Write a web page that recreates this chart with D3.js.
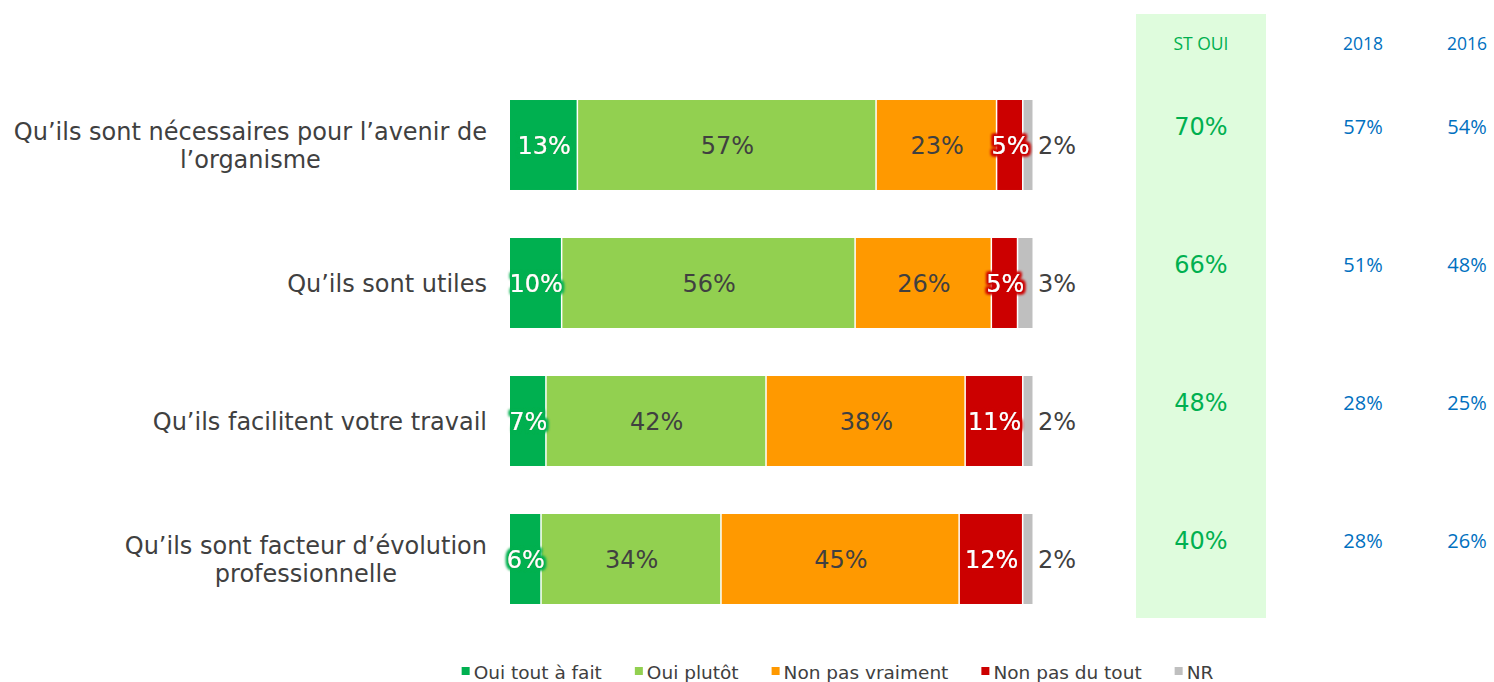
<!DOCTYPE html>
<html>
<head>
<meta charset="utf-8">
<script src="https://d3js.org/d3.v7.min.js"></script>
<style>
  body { margin: 0; background: #fff; }
  svg text { font-family: "DejaVu Sans", Verdana, sans-serif; }
</style>
</head>
<body>
<div id="chart"></div>
<script>
// data
const categories = [
  ["Qu\u2019ils sont nécessaires pour l\u2019avenir de", "l\u2019organisme"],
  ["Qu\u2019ils sont utiles"],
  ["Qu\u2019ils facilitent votre travail"],
  ["Qu\u2019ils sont facteur d\u2019évolution", "professionnelle"]
];
const seriesNames = ["Oui tout à fait", "Oui plutôt", "Non pas vraiment", "Non pas du tout", "NR"];
const ouiToutAFait = [13, 10, 7, 6];
const ouiPlutot = [57, 56, 42, 34];
const nonPasVraiment = [23, 26, 38, 45];
const nonPasDuTout = [5, 5, 11, 12];
const nr = [2, 3, 2, 2];
const stOui = [70, 66, 48, 40];
const y2018 = [57, 51, 28, 28];
const y2016 = [54, 48, 25, 26];
const colHeaders = ["ST OUI", "2018", "2016"];

const colors = ["#00B050", "#92D050", "#FF9900", "#CC0000", "#BFBFBF"];
const darkLabel = [false, true, true, false, true];

const W = 1494, H = 682;
const svg = d3.select("#chart").append("svg")
  .attr("width", W).attr("height", H);

const defs = svg.append("defs");
function glow(id, color) {
  const f = defs.append("filter").attr("id", id)
    .attr("x", "-30%").attr("y", "-30%").attr("width", "160%").attr("height", "160%");
  f.append("feMorphology").attr("in", "SourceAlpha").attr("operator", "dilate").attr("radius", 2).attr("result", "d");
  f.append("feGaussianBlur").attr("in", "d").attr("stdDeviation", 1.8).attr("result", "b");
  f.append("feFlood").attr("flood-color", color).attr("result", "c");
  f.append("feComposite").attr("in", "c").attr("in2", "b").attr("operator", "in").attr("result", "g");
  const m = f.append("feMerge");
  m.append("feMergeNode").attr("in", "g");
  m.append("feMergeNode").attr("in", "g");
  m.append("feMergeNode").attr("in", "SourceGraphic");
}
glow("glow0", colors[0]);
glow("glow3", colors[3]);

const rows = categories.map((c, i) => ({
  idx: i,
  label: c,
  values: [ouiToutAFait[i], ouiPlutot[i], nonPasVraiment[i], nonPasDuTout[i], nr[i]]
}));

const x = d3.scaleLinear().domain([0, 100]).range([510, 1034]);
const y = d3.scaleBand().domain(d3.range(categories.length)).range([76, 628])
  .paddingInner(0.348).paddingOuter(0.174);

// ST OUI panel
svg.append("rect")
  .attr("x", 1136).attr("y", 14).attr("width", 130).attr("height", 604)
  .attr("fill", "#DFFCDD");

const colX = [1201, 1363, 1467];
svg.selectAll("text.colhead").data(colHeaders).join("text")
  .attr("class", "colhead")
  .attr("x", (d, i) => colX[i]).attr("y", 50)
  .attr("text-anchor", "middle")
  .style("font-family", "'Open Sans', sans-serif")
  .style("font-size", "17.5px")
  .attr("fill", (d, i) => i === 0 ? "#00B050" : "#0070C0")
  .text(d => d);

const g = svg.selectAll("g.row").data(rows).join("g").attr("class", "row");

g.each(function(r) {
  const sel = d3.select(this);
  const y0 = y(r.idx), bh = y.bandwidth(), cy = y0 + bh / 2;
  // each bar fills the full width (rounded values may not sum to 100)
  const xr = x.copy().domain([0, d3.sum(r.values)]);
  let acc = 0;
  const segs = r.values.map((v, k) => {
    const s = { k: k, v: v, x0: acc, x1: acc + v };
    acc += v;
    return s;
  });
  sel.selectAll("rect").data(segs).join("rect")
    .attr("x", d => xr(d.x0)).attr("y", y0)
    .attr("width", d => Math.max(0, xr(d.x1) - xr(d.x0) - 1.5))
    .attr("height", bh)
    .attr("fill", d => colors[d.k]);

  sel.selectAll("text.val").data(segs).join("text")
    .attr("class", "val")
    .attr("x", d => d.k === 4 ? xr(d.x1) + 4 : (xr(d.x0) + xr(d.x1)) / 2)
    .attr("y", cy + 9)
    .attr("text-anchor", d => d.k === 4 ? "start" : "middle")
    .style("font-size", "24px")
    .attr("fill", d => darkLabel[d.k] ? "#404040" : "#fff")
    .attr("filter", d => d.k === 0 ? "url(#glow0)" : d.k === 3 ? "url(#glow3)" : null)
    .text(d => d.v + "%");

  // category label
  const lines = r.label;
  const t = sel.append("text")
    .attr("text-anchor", "end")
    .style("font-size", "24px")
    .attr("fill", "#404040");
  lines.forEach((ln, j) => {
    t.append("tspan")
      .attr("x", j === 0 ? 487 : null)
      .attr("y", cy + 9 + (j - (lines.length - 1) / 2) * 28)
      .text(ln);
  });
  if (lines.length > 1) {
    // second line centred under the first
    const w0 = t.select("tspan").node().getComputedTextLength();
    t.selectAll("tspan").filter((d, j) => j > 0)
      .attr("x", 487 - w0 / 2).attr("text-anchor", "middle");
  }

  sel.append("text")
    .attr("x", colX[0]).attr("y", cy - 10)
    .attr("text-anchor", "middle")
    .style("font-size", "24px")
    .attr("fill", "#00B050")
    .text(stOui[r.idx] + "%");

  [y2018, y2016].forEach((arr, j) => {
    sel.append("text")
      .attr("x", colX[j + 1]).attr("y", cy - 11)
      .attr("text-anchor", "middle")
      .style("font-family", "'Open Sans', sans-serif")
      .style("font-size", "20px")
      .attr("fill", "#0070C0")
      .text(arr[r.idx] + "%");
  });
});

// legend
const leg = svg.append("g");
let lx = 0;
seriesNames.forEach((n, k) => {
  const it = leg.append("g").attr("transform", `translate(${lx},0)`);
  it.append("rect").attr("x", 0).attr("y", -12).attr("width", 8).attr("height", 8).attr("fill", colors[k]);
  const tx = it.append("text").attr("x", 12).attr("y", 0)
    .style("font-size", "18.5px")
    .attr("fill", "#404040").text(n);
  lx += 12 + tx.node().getComputedTextLength() + 33;
});
const legW = lx - 33;
leg.attr("transform", `translate(${(462 + 1213) / 2 - legW / 2},679)`);
</script>
</body>
</html>
